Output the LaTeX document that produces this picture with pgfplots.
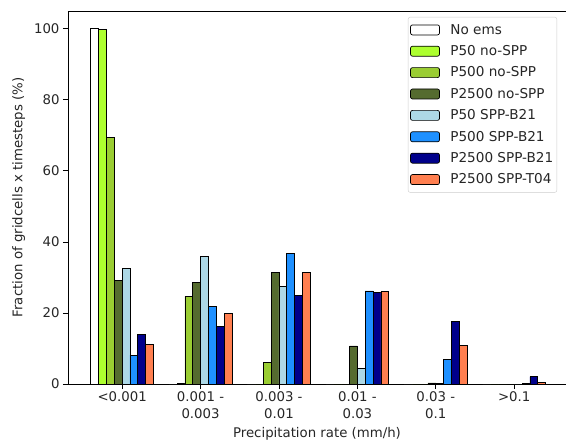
\documentclass[border=0pt]{standalone}
\usepackage{fontspec}
\setmainfont{DejaVu Sans}
\usepackage{pgfplots}
\pgfplotsset{compat=1.18}

\definecolor{noems}{HTML}{FFFFFF}
\definecolor{pfiftyno}{HTML}{ADFF2F}
\definecolor{pfivehno}{HTML}{9ACD32}
\definecolor{ptwofno}{HTML}{556B2F}
\definecolor{pfiftyb}{HTML}{ADD8E6}
\definecolor{pfivehb}{HTML}{1E90FF}
\definecolor{ptwofb}{HTML}{00008B}
\definecolor{ptwoft}{HTML}{FF7F50}

\begin{document}
\begin{tikzpicture}
\begin{axis}[
  at={(0,0)}, anchor=south west,
  scale only axis,
  width=498pt, height=373pt,
  xmin=-0.69, xmax=5.66,
  ymin=0, ymax=105,
  ybar, bar width=0.1,
  axis x line*=box, axis y line*=left,
  axis line style={black, line width=0.9pt},
  tick align=outside, xtick pos=bottom, ytick pos=left,
  major tick length=5pt,
  tick style={black, line width=0.8pt},
  xtick={0,1,2,3,4,5},
  xticklabels={{<0.001}, {0.001 -\\0.003}, {0.003 -\\0.01}, {0.01 -\\0.03}, {0.03 -\\0.1}, {>0.1}},
  xticklabel style={align=center, font=\fontsize{13.3}{17}\selectfont, text=black!85, inner sep=2pt},
  ytick={0,20,40,60,80,100},
  yticklabel style={font=\fontsize{13.3}{15}\selectfont, text=black!85},
  /pgf/number format/assume math mode=true,
  xlabel={Precipitation rate (mm/h)},
  ylabel={Fraction of gridcells x timesteps (\%)},
  xlabel style={font=\fontsize{13.3}{15}\selectfont, text=black!85, yshift=-4pt},
  ylabel style={font=\fontsize{13.3}{15}\selectfont, text=black!85, yshift=2pt},
  every axis plot/.append style={draw=black, line width=0.7pt},
  area legend,
  legend cell align=left,
  legend style={at={(axis description cs:1,1)}, anchor=north east,
    xshift=-9pt, yshift=-6pt, draw=black!20, rounded corners=2pt,
    font=\fontsize{13.6}{15}\selectfont, text=black!85,
    row sep=5.8pt, inner xsep=2pt, inner ysep=5pt,
    nodes={inner xsep=1.5pt}},
  legend image code/.code={\draw[#1] (0pt,-5pt) rectangle (29pt,5pt); \path (38pt,0pt);},
]
\addplot[fill=noems, bar shift=-0.35] coordinates {(0,100) (1,0) (2,0) (3,0) (4,0) (5,0)};
\addplot[fill=pfiftyno, bar shift=-0.25] coordinates {(0,99.7) (1,0.2) (2,0) (3,0) (4,0) (5,0)};
\addplot[fill=pfivehno, bar shift=-0.15] coordinates {(0,69.5) (1,24.7) (2,6.0) (3,0) (4,0) (5,0)};
\addplot[fill=ptwofno, bar shift=-0.05] coordinates {(0,29.2) (1,28.5) (2,31.5) (3,10.7) (4,0.3) (5,0)};
\addplot[fill=pfiftyb, bar shift=0.05] coordinates {(0,32.5) (1,35.8) (2,27.5) (3,4.4) (4,0.1) (5,0)};
\addplot[fill=pfivehb, bar shift=0.15] coordinates {(0,8.1) (1,21.9) (2,36.7) (3,26.2) (4,6.9) (5,0.1)};
\addplot[fill=ptwofb, bar shift=0.25] coordinates {(0,14.0) (1,16.1) (2,25.0) (3,25.7) (4,17.5) (5,2.1)};
\addplot[fill=ptwoft, bar shift=0.35] coordinates {(0,11.1) (1,19.9) (2,31.5) (3,26.1) (4,10.9) (5,0.5)};
\legend{No ems, P50 no-SPP, P500 no-SPP, P2500 no-SPP, P50 SPP-B21, P500 SPP-B21, P2500 SPP-B21, P2500 SPP-T04}
\end{axis}
\pgfresetboundingbox
\useasboundingbox (-68pt,-56pt) rectangle (498pt,384pt);
\end{tikzpicture}
\end{document}
